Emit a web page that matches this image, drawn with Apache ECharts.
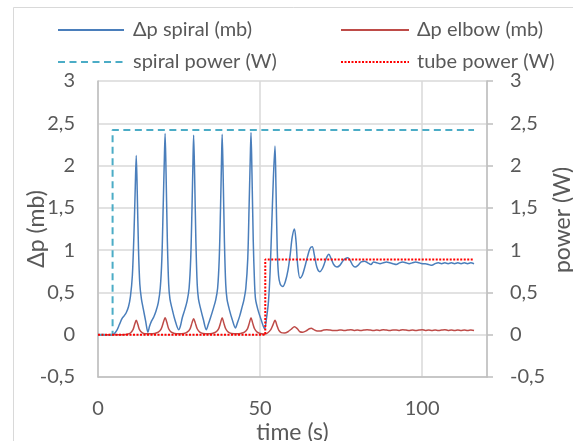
<!DOCTYPE html>
<html>
<head>
<meta charset="utf-8">
<script src="https://cdn.jsdelivr.net/npm/echarts@6/dist/echarts.min.js"></script>
<style>
html,body{margin:0;padding:0;background:#fff;}
#c{width:573px;height:441px;}
</style>
</head>
<body>
<div id="c"></div>
<script>
// Series names
const seriesNames = ['Δp spiral (mb)', 'Δp elbow (mb)', 'spiral power (W)', 'tube power (W)'];
const xAxisTitle = 'time (s)';
const leftAxisTitle = 'Δp (mb)';
const rightAxisTitle = 'power (W)';

// Δp spiral (mb): [time s, value]
const spiralDp = [
[0,0],[4.3,0],[5,0.01],[5.8,0.05],[6.6,0.12],[7.4,0.19],[8.0,0.22],[8.7,0.26],[9.4,0.33],[10.0,0.45],[10.6,0.7],[11.1,1.2],[11.5,1.75],[11.8,2.12],[12.1,1.7],[12.5,1.0],[12.9,0.6],[13.4,0.42],[14.0,0.3],[14.7,0.16],[15.4,0.03],
[15.9,0.1],[16.5,0.16],[17.2,0.21],[17.9,0.28],[18.6,0.38],[19.2,0.55],[19.7,0.9],[20.1,1.5],[20.45,2.05],[20.7,2.38],[21.0,1.9],[21.4,1.1],[21.8,0.6],[22.2,0.42],[22.9,0.3],[23.7,0.18],[24.9,0.06],
[25.4,0.1],[26.0,0.2],[26.8,0.3],[27.5,0.4],[28.1,0.55],[28.6,0.9],[29.0,1.5],[29.3,2.05],[29.5,2.36],[29.8,1.9],[30.2,1.1],[30.6,0.6],[31.0,0.42],[31.7,0.3],[32.5,0.18],[33.4,0.06],
[34.0,0.12],[34.7,0.2],[35.5,0.3],[36.3,0.41],[36.9,0.55],[37.4,0.9],[37.8,1.5],[38.1,2.05],[38.3,2.37],[38.6,1.9],[39.0,1.1],[39.4,0.6],[39.8,0.42],[40.5,0.3],[41.4,0.18],[42.4,0.08],
[43.0,0.14],[43.7,0.22],[44.4,0.32],[45.0,0.41],[45.6,0.55],[46.2,0.9],[46.6,1.5],[46.95,2.05],[47.2,2.39],[47.5,1.9],[47.9,1.1],[48.3,0.6],[48.6,0.42],[49.3,0.3],[50.3,0.18],[51.4,0.07],
[52.0,0.2],[52.6,0.4],[53.1,0.75],[53.6,1.3],[54.1,1.85],[54.6,2.23],[54.9,1.75],[55.3,1.0],[55.7,0.7],[56.2,0.6],[57.0,0.57],[57.8,0.63],[58.6,0.76],[59.3,0.95],[59.9,1.15],[60.6,1.25],[61.1,1.1],[61.6,0.82],[62.3,0.67],
[63.0,0.7],[63.8,0.8],[64.6,0.92],[65.4,1.02],[66.1,1.04],[66.7,0.95],[67.5,0.8],[68.4,0.745],[69.2,0.78],[70.0,0.86],[70.6,0.92],[71.2,0.95],[71.9,0.9],[72.7,0.83],[73.7,0.80],[74.6,0.82],[75.5,0.87],[76.3,0.9],[77.1,0.91],[77.9,0.87],[78.6,0.82],[79.3,0.80],[80.2,0.82],[81.2,0.86],[82.2,0.87],[83.2,0.85],[84.2,0.83],
[85,0.86],[86,0.85],[87,0.84],[88,0.85],[89,0.86],[90,0.85],[91,0.84],[92,0.83],[93,0.85],[94,0.86],[95,0.85],[96,0.84],[97,0.85],[98,0.86],[99,0.85],[100,0.84],[101,0.84],[102,0.83],[103,0.82],[104,0.84],[105,0.85],[106,0.84],[107,0.85],[108,0.84],[109,0.85],[110,0.84],[111,0.85],[112,0.84],[113,0.85],[114,0.84],[115,0.85],[116,0.84]
];

// Δp elbow (mb): [time s, value]
const elbowDp = [
[0,0],[8,0],[9,0.005],[10,0.02],[10.8,0.06],[11.3,0.12],[11.8,0.17],[12.3,0.12],[12.8,0.06],[13.6,0.025],[14.5,0.01],
[16,0.01],[17.5,0.015],[18.6,0.03],[19.5,0.07],[20.2,0.15],[20.7,0.2],[21.2,0.15],[21.8,0.07],[22.6,0.03],[23.6,0.015],
[25,0.01],[26.5,0.015],[27.5,0.03],[28.4,0.07],[29.0,0.14],[29.5,0.19],[30.0,0.14],[30.6,0.07],[31.4,0.03],[32.4,0.015],
[34,0.01],[35.2,0.015],[36.3,0.03],[37.2,0.07],[37.8,0.14],[38.3,0.2],[38.8,0.14],[39.4,0.07],[40.2,0.03],[41.2,0.015],
[43,0.01],[44,0.015],[45.2,0.03],[46.1,0.07],[46.7,0.14],[47.2,0.2],[47.7,0.14],[48.3,0.07],[49.1,0.03],[50.1,0.015],
[51.4,0.005],[52.3,0.02],[53.3,0.06],[54.0,0.12],[54.6,0.17],[55.2,0.11],[55.8,0.05],[56.5,0.025],[57.5,0.02],[58.6,0.035],[59.6,0.065],[60.6,0.095],[61.5,0.07],[62.3,0.035],[63.2,0.03],[64.2,0.045],[65.2,0.07],[65.8,0.075],[66.6,0.06],[67.6,0.045],[68.6,0.045],[69.6,0.055],[70.6,0.06],[71.6,0.055],[72.6,0.05],[73.6,0.05],[74.6,0.055],
[75,0.055],[76,0.05],[77,0.055],[78,0.06],[79,0.05],[80,0.055],[81,0.05],[82,0.055],[83,0.06],[84,0.055],[85,0.05],[86,0.055],[87,0.05],[88,0.06],[89,0.055],[90,0.05],[91,0.055],[92,0.055],[93,0.05],[94,0.06],[95,0.055],[96,0.05],[97,0.055],[98,0.05],[99,0.055],[100,0.06],[101,0.05],[102,0.055],[103,0.05],[104,0.055],[105,0.05],[106,0.055],[107,0.06],[108,0.05],[109,0.055],[110,0.05],[111,0.055],[112,0.05],[113,0.055],[114,0.05],[115,0.055],[116,0.05]
];

// spiral power (W) and tube power (W): [time s, value]
const spiralPower = [[0,0],[4.5,0],[4.5,2.42],[116,2.42]];
const tubePower = [[0,0],[51.6,0],[51.6,0.89],[116,0.89]];

// Axis ranges / ticks
const xMin = 0, xMax = 120, xStep = 50;
const yMin = -0.5, yMax = 3, yStep = 0.5;

const FONT = 'Lato';
const GREY = '#595959';
const fmt = v => String(v).replace('.', ',');

const chart = echarts.init(document.getElementById('c'), null, {renderer: 'canvas'});
chart.setOption({
  animation: false,
  backgroundColor: '#fff',
  textStyle: {fontFamily: FONT},
  graphic: [{
    type: 'rect', silent: true, z: -10,
    shape: {x: 13.5, y: 7.5, width: 700, height: 600},
    style: {fill: 'none', stroke: '#d9d9d9', lineWidth: 1}
  }],
  legend: [{
    left: 52, top: 15, orient: 'vertical',
    itemWidth: 66, itemHeight: 14, itemGap: 12,
    itemStyle: {opacity: 0},
    data: [seriesNames[0], seriesNames[2]],
    textStyle: {fontFamily: FONT, fontSize: 20, color: GREY, lineHeight: 20, padding: [0,0,0,4]}
  }, {
    left: 335, top: 15, orient: 'vertical',
    itemWidth: 68, itemHeight: 14, itemGap: 12,
    itemStyle: {opacity: 0},
    data: [seriesNames[1], seriesNames[3]],
    textStyle: {fontFamily: FONT, fontSize: 20, color: GREY, lineHeight: 20, padding: [0,0,0,3]}
  }],
  grid: {left: 98, right: 86, top: 81, bottom: 64, containLabel: false, outerBoundsMode: 'none'},
  xAxis: {
    type: 'value', min: xMin, max: xMax, interval: xStep,
    name: xAxisTitle, nameLocation: 'middle', nameGap: 44, nameMoveOverlap: false,
    nameTextStyle: {fontFamily: FONT, fontSize: 23, color: GREY},
    axisLine: {onZero: false, lineStyle: {color: '#bfbfbf', width: 1.5}},
    axisTick: {show: false},
    axisLabel: {fontFamily: FONT, fontSize: 20, color: GREY, margin: 22,
      formatter: v => (v === xMax ? '' : fmt(v))},
    splitLine: {show: true, lineStyle: {color: '#d9d9d9', width: 1.5}}
  },
  yAxis: [{
    type: 'value', min: yMin, max: yMax, interval: yStep,
    name: leftAxisTitle, nameLocation: 'middle', nameGap: 50, nameRotate: 90, nameMoveOverlap: false,
    nameTextStyle: {fontFamily: FONT, fontSize: 23, color: GREY},
    axisLine: {show: true, onZero: false, lineStyle: {color: '#bfbfbf', width: 1.5}},
    axisTick: {show: false},
    axisLabel: {fontFamily: FONT, fontSize: 20, color: GREY, margin: 23, formatter: fmt},
    splitLine: {show: true, lineStyle: {color: '#d9d9d9', width: 1.5}}
  }, {
    type: 'value', min: yMin, max: yMax, interval: yStep, position: 'right',
    name: rightAxisTitle, nameLocation: 'middle', nameGap: 64, nameRotate: 90, nameMoveOverlap: false,
    nameTextStyle: {fontFamily: FONT, fontSize: 23, color: GREY, padding: [0, 0, 0, 18]},
    axisLine: {show: true, onZero: false, lineStyle: {color: '#bfbfbf', width: 1.5}},
    axisTick: {show: true, inside: false, length: 6, lineStyle: {color: '#bfbfbf', width: 1.5}},
    axisLabel: {fontFamily: FONT, fontSize: 20, color: GREY, margin: 23, formatter: fmt},
    splitLine: {show: false}
  }],
  series: [{
    name: seriesNames[0], type: 'line', yAxisIndex: 0, data: spiralDp,
    showSymbol: false, symbol: 'none', smooth: 0.3,
    lineStyle: {color: '#4a7ebb', width: 1.5}, itemStyle: {color: '#4a7ebb'}, z: 2
  }, {
    name: seriesNames[1], type: 'line', yAxisIndex: 0, data: elbowDp,
    showSymbol: false, symbol: 'none', smooth: 0.3,
    lineStyle: {color: '#be4b48', width: 1.5}, itemStyle: {color: '#be4b48'}, z: 3
  }, {
    name: seriesNames[2], type: 'line', yAxisIndex: 1, data: spiralPower,
    showSymbol: false, symbol: 'none',
    lineStyle: {color: '#4bacc6', width: 2, type: [7, 4.5]}, itemStyle: {color: '#4bacc6'}, z: 4
  }, {
    name: seriesNames[3], type: 'line', yAxisIndex: 1, data: tubePower,
    showSymbol: false, symbol: 'none',
    lineStyle: {color: '#ff0000', width: 2, type: [2, 1.5]}, itemStyle: {color: '#ff0000'}, z: 5
  }]
});
</script>
</body>
</html>
